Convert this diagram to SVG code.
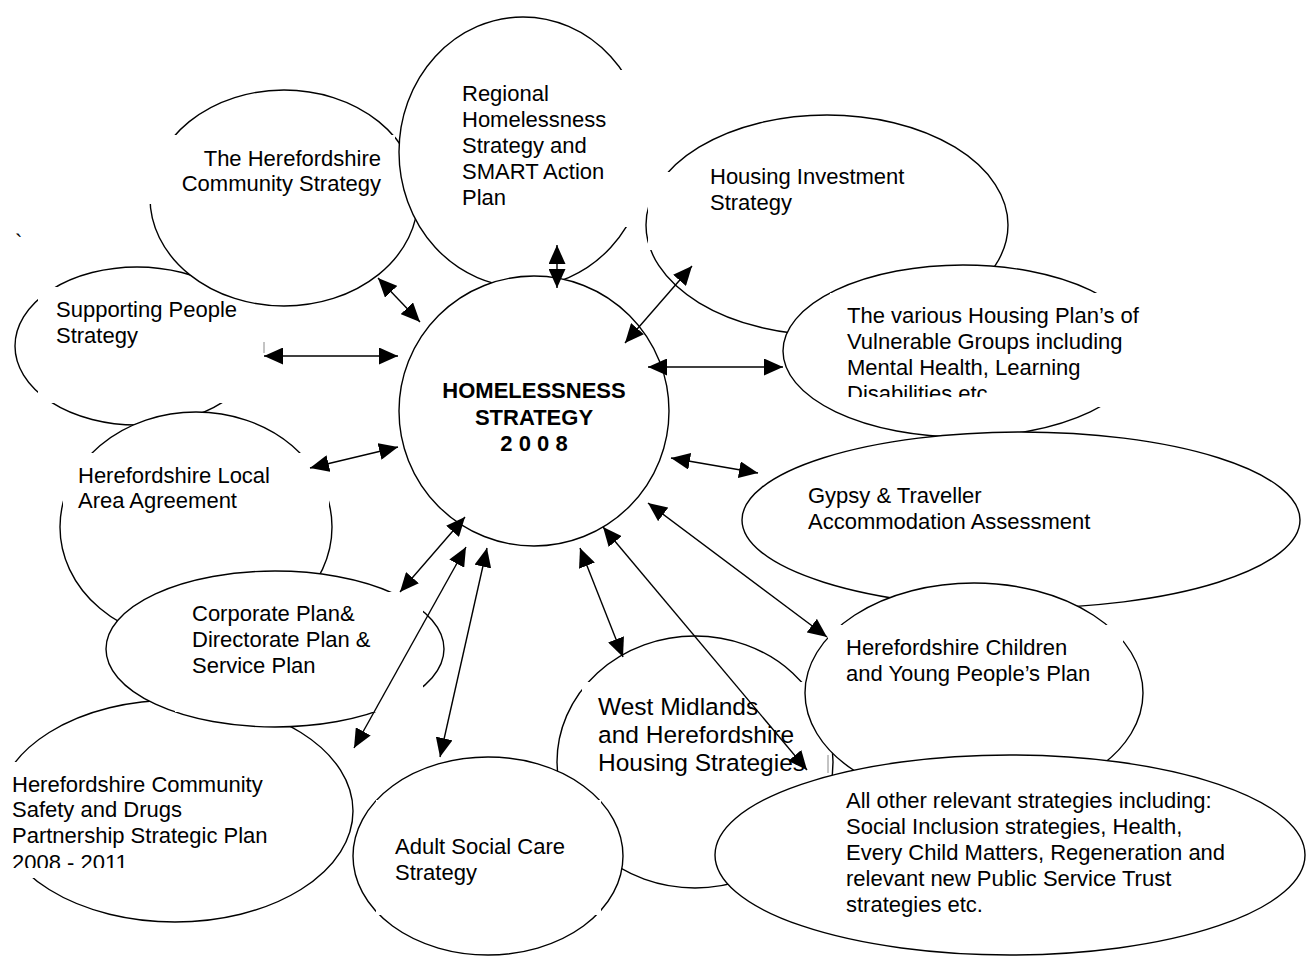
<svg xmlns="http://www.w3.org/2000/svg" width="1308" height="956" viewBox="0 0 1308 956">
<style>
.e{fill:#fff;stroke:#000;stroke-width:1.4}
.b{fill:#fff;stroke:none}
.t{font-family:"Liberation Sans",Arial,sans-serif;font-size:22px;fill:#000}
.c{font-family:"Liberation Sans",Arial,sans-serif;font-size:22px;font-weight:bold;fill:#000;text-anchor:middle}
.a{stroke:#000;stroke-width:1.4;fill:none;marker-start:url(#h);marker-end:url(#h)}
.k{stroke:#888;stroke-width:1}
</style>
<defs>
<marker id="h" viewBox="0 0 19 17" refX="19" refY="8.5" markerWidth="19" markerHeight="17" markerUnits="userSpaceOnUse" orient="auto-start-reverse">
<path d="M0,0 L19,8.5 L0,17 z" fill="#000"/>
</marker>
<clipPath id="cv"><rect x="830" y="293" width="320" height="104"/></clipPath>
<clipPath id="cs"><rect x="0" y="762" width="320" height="106"/></clipPath>
</defs>
<rect width="1308" height="956" fill="#fff"/>

<g id="supporting">
<ellipse class="e" cx="137" cy="346" rx="122" ry="79"/>
<rect class="b" x="38" y="287" width="226" height="116"/>
<line class="k" x1="264" y1="342" x2="264" y2="353"/>
<text class="t" x="56" y="317">Supporting People</text>
<text class="t" x="56" y="343">Strategy</text>
</g>
<text class="t" x="15" y="250">`</text>

<g id="community">
<ellipse class="e" cx="284" cy="198" rx="134" ry="108"/>
<rect class="b" x="140" y="135" width="255" height="69"/>
<text class="t" x="381" y="166" text-anchor="end">The Herefordshire</text>
<text class="t" x="381" y="191" text-anchor="end">Community Strategy</text>
</g>

<g id="regional">
<ellipse class="e" cx="523" cy="152" rx="124" ry="135"/>
<rect class="b" x="440" y="70" width="210" height="157"/>
<text class="t" x="462" y="101">Regional</text>
<text class="t" x="462" y="127">Homelessness</text>
<text class="t" x="462" y="153">Strategy and</text>
<text class="t" x="462" y="179">SMART Action</text>
<text class="t" x="462" y="205">Plan</text>
</g>

<g id="housing-investment">
<ellipse class="e" cx="827" cy="225" rx="181" ry="110"/>
<rect class="b" x="648" y="172" width="312" height="78"/>
<text class="t" x="710" y="184">Housing Investment</text>
<text class="t" x="710" y="210">Strategy</text>
</g>

<g id="vulnerable">
<ellipse class="e" cx="963" cy="351" rx="180" ry="86"/>
<rect class="b" x="830" y="293" width="320" height="114"/>
<g clip-path="url(#cv)">
<text class="t" x="847" y="323">The various Housing Plan’s of</text>
<text class="t" x="847" y="349">Vulnerable Groups including</text>
<text class="t" x="847" y="375">Mental Health, Learning</text>
<text class="t" x="847" y="401">Disabilities etc</text>
</g>
</g>

<g id="gypsy">
<ellipse class="e" cx="1021" cy="520" rx="279" ry="88"/>
<text class="t" x="808" y="503">Gypsy &amp; Traveller</text>
<text class="t" x="808" y="529">Accommodation Assessment</text>
</g>

<g id="local-area">
<ellipse class="e" cx="196" cy="527" rx="136" ry="115"/>
<rect class="b" x="63" y="453" width="266" height="87"/>
<text class="t" x="78" y="483">Herefordshire Local</text>
<text class="t" x="78" y="508">Area Agreement</text>
</g>

<g id="community-safety">
<ellipse class="e" cx="175" cy="811" rx="178" ry="111"/>
<rect class="b" x="-5" y="762" width="305" height="116"/>
<g clip-path="url(#cs)">
<text class="t" x="12" y="792">Herefordshire Community</text>
<text class="t" x="12" y="817">Safety and Drugs</text>
<text class="t" x="12" y="843">Partnership Strategic Plan</text>
<text class="t" x="12" y="870">2008 - 2011</text>
</g>
</g>

<g id="corporate">
<ellipse class="e" cx="275" cy="649" rx="169" ry="78"/>
<rect class="b" x="175" y="592" width="248" height="120"/>
<text class="t" x="192" y="621">Corporate Plan&amp;</text>
<text class="t" x="192" y="647">Directorate Plan &amp;</text>
<text class="t" x="192" y="673">Service Plan</text>
</g>

<g id="west-midlands">
<ellipse class="e" cx="695" cy="762" rx="138" ry="126"/>
<rect class="b" x="582" y="682" width="248" height="108"/>
<text class="t" x="598" y="715" style="font-size:24.5px">West Midlands</text>
<text class="t" x="598" y="743" style="font-size:24.5px">and Herefordshire</text>
<text class="t" x="598" y="771" style="font-size:24.5px">Housing Strategies</text>
</g>

<g id="adult">
<ellipse class="e" cx="488" cy="856" rx="135" ry="99"/>
<rect class="b" x="376" y="800" width="225" height="115"/>
<text class="t" x="395" y="854">Adult Social Care</text>
<text class="t" x="395" y="880">Strategy</text>
</g>

<g id="children">
<ellipse class="e" cx="974" cy="693" rx="169" ry="110"/>
<rect class="b" x="828" y="625" width="295" height="113"/>
<line class="k" x1="828" y1="755" x2="828" y2="773"/>
<text class="t" x="846" y="655">Herefordshire Children</text>
<text class="t" x="846" y="681">and Young People’s Plan</text>
</g>

<g id="all-other">
<ellipse class="e" cx="1010" cy="855" rx="295" ry="100"/>
<text class="t" x="846" y="808">All other relevant strategies including:</text>
<text class="t" x="846" y="834">Social Inclusion strategies, Health,</text>
<text class="t" x="846" y="860">Every Child Matters, Regeneration and</text>
<text class="t" x="846" y="886">relevant new Public Service Trust</text>
<text class="t" x="846" y="912">strategies etc.</text>
</g>

<g id="homelessness">
<circle class="e" cx="534" cy="411" r="135"/>
<text class="c" x="534" y="398">HOMELESSNESS</text>
<text class="c" x="534" y="425">STRATEGY</text>
<text class="c" x="534" y="451">2 0 0 8</text>
</g>

<g id="connectors">
<line class="a" x1="378" y1="278" x2="420" y2="322"/>
<line class="a" x1="557" y1="245" x2="557" y2="288"/>
<line class="a" x1="692" y1="266" x2="625" y2="343"/>
<line class="a" x1="264" y1="356" x2="398" y2="356"/>
<line class="a" x1="648" y1="367" x2="783" y2="367"/>
<line class="a" x1="310" y1="468" x2="398" y2="447"/>
<line class="a" x1="671" y1="458" x2="758" y2="473"/>
<line class="a" x1="400" y1="592" x2="465" y2="517"/>
<line class="a" x1="354" y1="748" x2="466" y2="547"/>
<line class="a" x1="440" y1="757" x2="487" y2="548"/>
<line class="a" x1="580" y1="548" x2="623" y2="657"/>
<line class="a" x1="648" y1="503" x2="827" y2="637"/>
<line class="a" x1="603" y1="527" x2="807" y2="770"/>
</g>
</svg>
